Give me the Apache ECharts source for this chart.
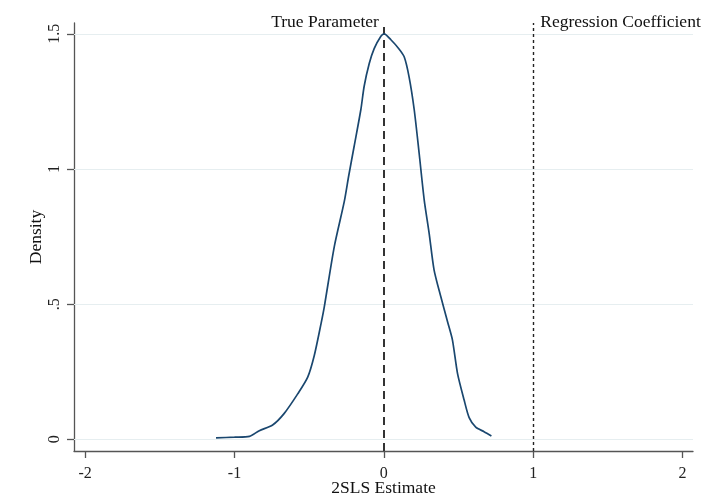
<!DOCTYPE html>
<html>
<head>
<meta charset="utf-8">
<script src="https://cdn.jsdelivr.net/npm/echarts@6/dist/echarts.min.js"></script>
<style>
html,body{margin:0;padding:0;background:#fff;}
#c{width:708px;height:499px;}
</style>
</head>
<body>
<div id="c"></div>
<script>
// Kernel density of 2SLS estimates (x, density)
const estX = [-1.124,-1.0,-0.90,-0.834,-0.745,-0.667,-0.577,-0.51,-0.466,-0.42,-0.399,-0.332,-0.265,-0.236,-0.199,-0.154,-0.132,-0.098,-0.065,-0.02,0.002,0.047,0.10,0.136,0.169,0.203,0.236,0.27,0.303,0.336,0.381,0.426,0.459,0.493,0.537,0.571,0.615,0.671,0.72];
const densY = [0.005,0.008,0.011,0.032,0.053,0.096,0.168,0.23,0.31,0.43,0.49,0.713,0.88,0.973,1.084,1.22,1.306,1.39,1.445,1.491,1.50,1.478,1.445,1.415,1.34,1.22,1.059,0.886,0.763,0.627,0.528,0.436,0.368,0.244,0.146,0.08,0.045,0.028,0.012];
const xTicks = [-2,-1,0,1,2];
const yTicks = [0,0.5,1,1.5];
const yTickLabels = ['0','.5','1','1.5'];
const refLines = [0,1];
const refLabels = ['True Parameter','Regression Coefficient'];
const xTitle = '2SLS Estimate';
const yTitle = 'Density';

const FONT = '"Liberation Serif","Times New Roman",serif';
const chart = echarts.init(document.getElementById('c'), null, {renderer:'canvas'});
const seriesData = estX.map((x,i)=>[x,densY[i]]);
const yMin = -0.0433, yMax = 1.54;

chart.setOption({
  animation:false,
  backgroundColor:'#fff',
  grid:{left:74,right:15,top:23,bottom:48,containLabel:false,outerBoundsMode:'none'},
  xAxis:{
    type:'value',min:-2.075,max:2.07,
    name:xTitle,nameLocation:'middle',nameGap:28,nameMoveOverlap:false,
    nameTextStyle:{fontFamily:FONT,fontSize:17.5,color:'#111'},
    axisLine:{show:true,onZero:false,lineStyle:{color:'#555',width:1.3}},
    axisTick:{show:true,length:7,customValues:xTicks,lineStyle:{color:'#555',width:1.3}},
    axisLabel:{customValues:xTicks,margin:15,fontFamily:FONT,fontSize:16,color:'#222',
      formatter:v=>String(v)},
    splitLine:{show:false}
  },
  yAxis:{
    type:'value',min:yMin,max:yMax,
    name:yTitle,nameLocation:'middle',nameGap:29,nameRotate:90,nameMoveOverlap:false,
    nameTextStyle:{fontFamily:FONT,fontSize:17.5,color:'#111'},
    axisLine:{show:true,onZero:false,lineStyle:{color:'#555',width:1.3}},
    axisTick:{show:true,length:7,customValues:yTicks,lineStyle:{color:'#555',width:1.3}},
    axisLabel:{customValues:yTicks,margin:11,rotate:90,fontFamily:FONT,fontSize:16,color:'#222',
      formatter:v=>{const i=yTicks.findIndex(t=>Math.abs(t-v)<1e-9);return i>=0?yTickLabels[i]:'';}},
    splitLine:{show:false}
  },
  series:[
    {
      type:'line',data:[],silent:true,
      markLine:{silent:true,symbol:'none',label:{show:false},
        lineStyle:{color:'#e6eef0',width:1.2,type:'solid'},
        data:yTicks.map(v=>({yAxis:v}))}
    },
    {
      type:'line',data:seriesData,smooth:0.25,showSymbol:false,
      lineStyle:{color:'#1a476f',width:1.7},itemStyle:{color:'#1a476f'},z:5
    },
    {
      type:'line',data:[],silent:true,z:6,
      markLine:{silent:true,symbol:'none',label:{show:false},
        data:[
          {xAxis:refLines[0],lineStyle:{color:'#333',width:2,type:[8,5]}},
          {xAxis:refLines[1],lineStyle:{color:'#222',width:1.4,type:[3,3]}}
        ]},
      markPoint:{silent:true,symbol:'circle',symbolSize:0,
        data:[
          {coord:[refLines[0],yMax],label:{show:true,position:'left',distance:5,offset:[0,-1],formatter:refLabels[0],fontFamily:FONT,fontSize:17.5,color:'#111'}},
          {coord:[refLines[1],yMax],label:{show:true,position:'right',distance:7,offset:[0,-1],formatter:refLabels[1],fontFamily:FONT,fontSize:17.5,color:'#111'}}
        ]}
    }
  ]
});
</script>
</body>
</html>
